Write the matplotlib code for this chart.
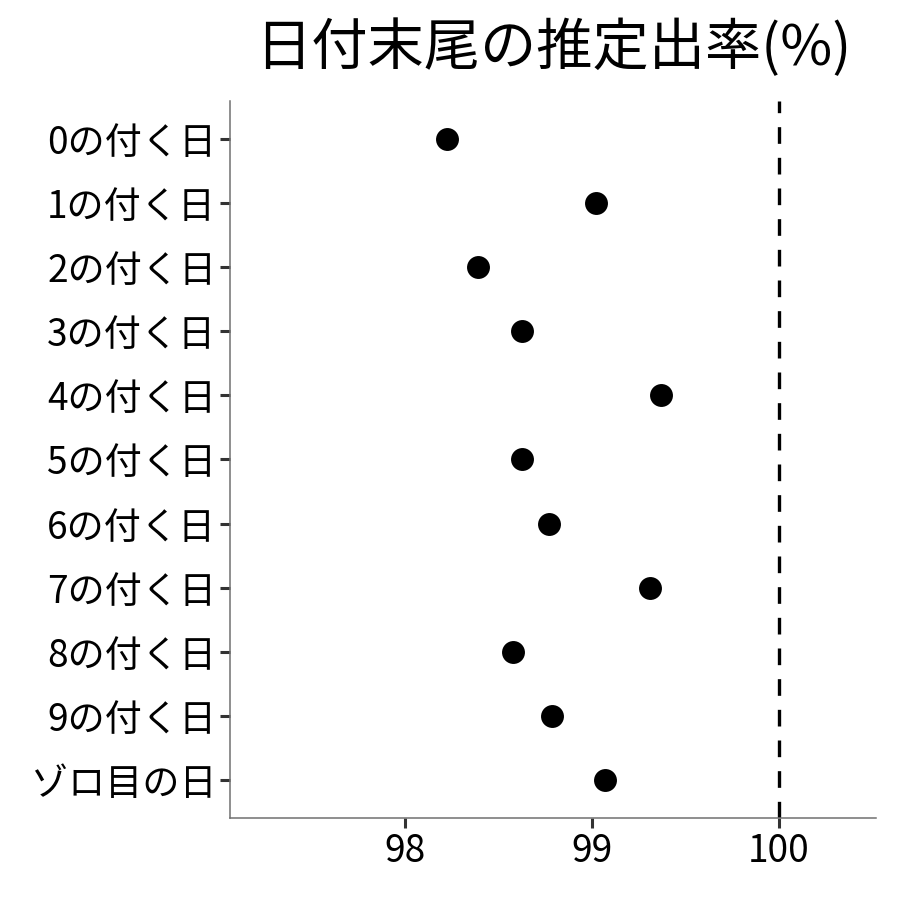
import matplotlib
matplotlib.use("Agg")
import matplotlib.pyplot as plt

plt.rcParams['font.family'] = ['Noto Sans CJK JP', 'DejaVu Sans']

# data
labels = ['0の付く日', '1の付く日', '2の付く日', '3の付く日', '4の付く日',
          '5の付く日', '6の付く日', '7の付く日', '8の付く日', '9の付く日',
          'ゾロ目の日']
rates = [98.225, 99.02, 98.39, 98.63, 99.37,
         98.63, 98.77, 99.31, 98.58, 98.79, 99.07]
ref_line = 100
xticks = [98, 99, 100]
title = '日付末尾の推定出率(%)'

fig = plt.figure(figsize=(9, 9), dpi=100)
ax = fig.add_axes([0.2556, 0.0911, 0.7177, 0.7967])

y = list(range(len(labels)))
ax.plot(rates, y, 'o', color='black', ms=16.5, mec='none', zorder=3)
ax.axvline(ref_line, color='black', lw=2.4, ls=(0, (5, 4.2)), zorder=2)

ax.set_xlim(97.068, 100.518)
ax.set_ylim(len(labels) - 0.4, -0.6)
ax.set_yticks(y)
ax.set_yticklabels(labels)
ax.set_xticks(xticks)
ax.set_xticklabels([str(t) for t in xticks])

for s in ['top', 'right']:
    ax.spines[s].set_visible(False)
for s in ['left', 'bottom']:
    ax.spines[s].set_color('#707070')
    ax.spines[s].set_linewidth(1.1)

ax.tick_params(axis='both', colors='#333333', width=2.2, length=7,
               labelsize=26.7, labelcolor='black', pad=3)

ax.set_title(title, fontsize=40.5, pad=26)

fig.savefig('out.png', dpi=100)
plt.close(fig)
